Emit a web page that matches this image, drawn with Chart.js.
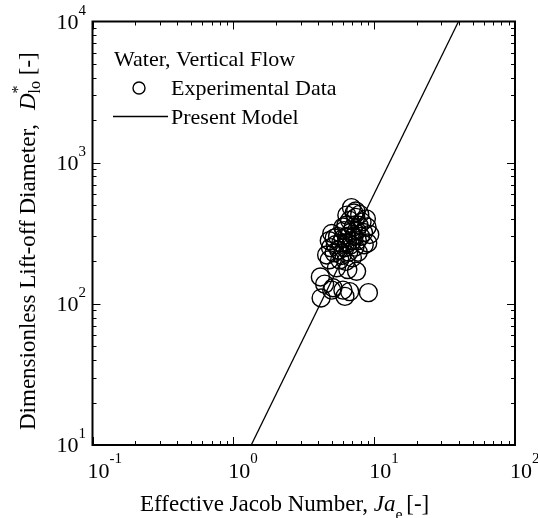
<!DOCTYPE html>
<html lang="en">
<head>
<meta charset="UTF-8">
<title>Lift-off Diameter vs Jacob Number</title>
<style>
body { margin: 0; background: #fff; }
#wrap { width: 538px; height: 518px; position: relative; }
</style>
</head>
<body>
<div id="wrap"><canvas id="chart"></canvas></div>

<script src="https://cdn.jsdelivr.net/npm/chart.js"></script>
<script>
const jaExp = [4.2, 4.15, 4.45, 5.1, 5.0, 6.0, 6.2, 6.7, 5.4, 6.5, 7.5, 4.8, 9.1,
    5.0, 4.8, 4.9, 5.2, 5.3, 5.5, 5.6, 5.8, 5.9, 6.0, 6.1, 6.2, 6.3, 6.4, 6.5, 6.6,
    6.7, 6.8, 6.9, 7.0, 7.1, 7.2, 7.3, 7.4, 7.5, 7.6, 7.8, 7.9, 8.0, 8.2, 8.4, 8.8,
    9.0, 9.3, 8.9, 7.0, 5.7, 6.4, 7.2, 5.2, 6.0, 7.7, 8.5, 4.6, 6.8, 6.3, 7.4];
const dExp = [110, 155, 138, 130, 125, 125, 113, 122, 180, 175, 170, 205, 120,
    315, 280, 250, 230, 262, 300, 240, 270, 220, 290, 330, 250, 360, 300, 270, 232,
    390, 320, 480, 280, 350, 300, 252, 410, 330, 280, 360, 430, 300, 380, 320, 400,
    270, 310, 350, 212, 205, 425, 440, 292, 350, 232, 262, 222, 262, 200, 455];

// present model line
const modelJa = [1.34, 39.7];
const modelD = [10, 10000];

// decade exponents for the tick labels
const xTickExp = ['-1', '0', '1', '2'];
const yTickExp = ['1', '2', '3', '4'];

const legendTitle = 'Water, Vertical Flow';
const seriesNames = ['Experimental Data', 'Present Model'];

const SERIF = '"Liberation Serif", "Times New Roman", serif';

// frame, inner ticks, tick labels, axis titles and legend
const decorations = {
    id: 'decorations',
    afterDraw(chart) {
        const ctx = chart.ctx;
        const a = chart.chartArea;
        const xs = chart.scales.x, ys = chart.scales.y;
        ctx.save();
        ctx.strokeStyle = '#000';
        ctx.fillStyle = '#000';

        // frame
        ctx.lineWidth = 2;
        ctx.strokeRect(a.left, a.top, a.right - a.left, a.bottom - a.top);

        // ticks on all four sides, pointing inward
        ctx.lineWidth = 1;
        ctx.beginPath();
        xTickExp.forEach((e, i) => {
            if (i === xTickExp.length - 1) return;
            const base = Math.pow(10, +e);
            for (let m = 1; m <= 9; m++) {
                const px = Math.round(xs.getPixelForValue(base * m)) + 0.5;
                const len = m === 1 ? 8 : 4;
                ctx.moveTo(px, a.bottom); ctx.lineTo(px, a.bottom - len);
                ctx.moveTo(px, a.top); ctx.lineTo(px, a.top + len);
            }
        });
        yTickExp.forEach((e, i) => {
            if (i === yTickExp.length - 1) return;
            const base = Math.pow(10, +e);
            for (let m = 1; m <= 9; m++) {
                const py = Math.round(ys.getPixelForValue(base * m)) + 0.5;
                const len = m === 1 ? 8 : 4;
                ctx.moveTo(a.left, py); ctx.lineTo(a.left + len, py);
                ctx.moveTo(a.right, py); ctx.lineTo(a.right - len, py);
            }
        });
        ctx.stroke();

        // tick labels: 10 with superscript exponent
        const big = '22px ' + SERIF, small = '15px ' + SERIF;
        ctx.textBaseline = 'alphabetic';
        ctx.textAlign = 'left';
        xTickExp.forEach(e => {
            const px = xs.getPixelForValue(Math.pow(10, +e));
            ctx.font = big;
            const w = ctx.measureText('10').width;
            const x0 = px + 6 - w / 2;
            ctx.fillText('10', x0, 478);
            ctx.font = small;
            ctx.fillText(e, x0 + w, 463);
        });
        yTickExp.forEach(e => {
            const py = ys.getPixelForValue(Math.pow(10, +e));
            ctx.font = big;
            const w = ctx.measureText('10').width;
            ctx.font = small;
            const ws = ctx.measureText(e).width;
            const x0 = 86 - w - ws;
            ctx.font = big;
            ctx.fillText('10', x0, py + 7);
            ctx.font = small;
            ctx.fillText(e, x0 + w, py - 7);
        });

        // x title: Effective Jacob Number, Ja_e [-]
        const tf = '23px ' + SERIF, tfi = 'italic 23px ' + SERIF, tfs = '16px ' + SERIF;
        let x = 140;
        const yb = 511;
        ctx.font = tf; ctx.fillText('Effective Jacob Number, ', x, yb);
        x += ctx.measureText('Effective Jacob Number, ').width;
        ctx.font = tfi; ctx.fillText('Ja', x, yb);
        x += ctx.measureText('Ja').width;
        ctx.font = tfs; ctx.fillText('e', x, yb + 9);
        x += ctx.measureText('e').width;
        ctx.font = tf; ctx.fillText(' [-]', x - 2, yb);

        // y title, rotated
        ctx.save();
        ctx.translate(35, 430);
        ctx.rotate(-Math.PI / 2);
        ctx.font = tf;
        ctx.fillText('Dimensionless Lift-off Diameter,', 0, 0);
        let t = 320;
        ctx.font = tfi; ctx.fillText('D', t, 0);
        t += ctx.measureText('D').width;
        ctx.font = tfs; ctx.fillText('*', t, -12);
        ctx.fillText('lo', t, 5);
        t += ctx.measureText('lo').width;
        ctx.font = tf; ctx.fillText(' [-]', t, 0);
        ctx.restore();

        // legend
        ctx.font = '22px ' + SERIF;
        ctx.fillText(legendTitle, 114, 66);
        ctx.fillText(seriesNames[0], 171, 95);
        ctx.fillText(seriesNames[1], 171, 124);
        ctx.lineWidth = 1.4;
        ctx.beginPath();
        ctx.arc(139, 88, 6, 0, Math.PI * 2);
        ctx.stroke();
        ctx.lineWidth = 1.3;
        ctx.beginPath();
        ctx.moveTo(113, 116.5); ctx.lineTo(168, 116.5);
        ctx.stroke();

        ctx.restore();
    }
};

const ctx = document.getElementById('chart').getContext('2d');
new Chart(ctx, {
    type: 'scatter',
    data: {
        datasets: [
            {
                label: seriesNames[0],
                data: jaExp.map((v, i) => ({ x: v, y: dExp[i] })),
                pointStyle: 'circle',
                pointRadius: 9,
                pointBorderWidth: 1.4,
                pointBorderColor: '#000',
                pointBackgroundColor: 'rgba(0,0,0,0)',
                showLine: false
            },
            {
                label: seriesNames[1],
                data: modelJa.map((v, i) => ({ x: v, y: modelD[i] })),
                showLine: true,
                borderColor: '#000',
                borderWidth: 1.3,
                pointRadius: 0,
                fill: false
            }
        ]
    },
    options: {
        responsive: true,
        maintainAspectRatio: false,
        animation: false,
        events: [],
        layout: { padding: { left: 92.5, right: 23, top: 21.5, bottom: 73 } },
        plugins: { legend: { display: false }, tooltip: { enabled: false } },
        scales: {
            x: { type: 'logarithmic', min: 0.1, max: 100, display: false },
            y: { type: 'logarithmic', min: 10, max: 10000, display: false }
        }
    },
    plugins: [decorations]
});
</script>
</body>
</html>
